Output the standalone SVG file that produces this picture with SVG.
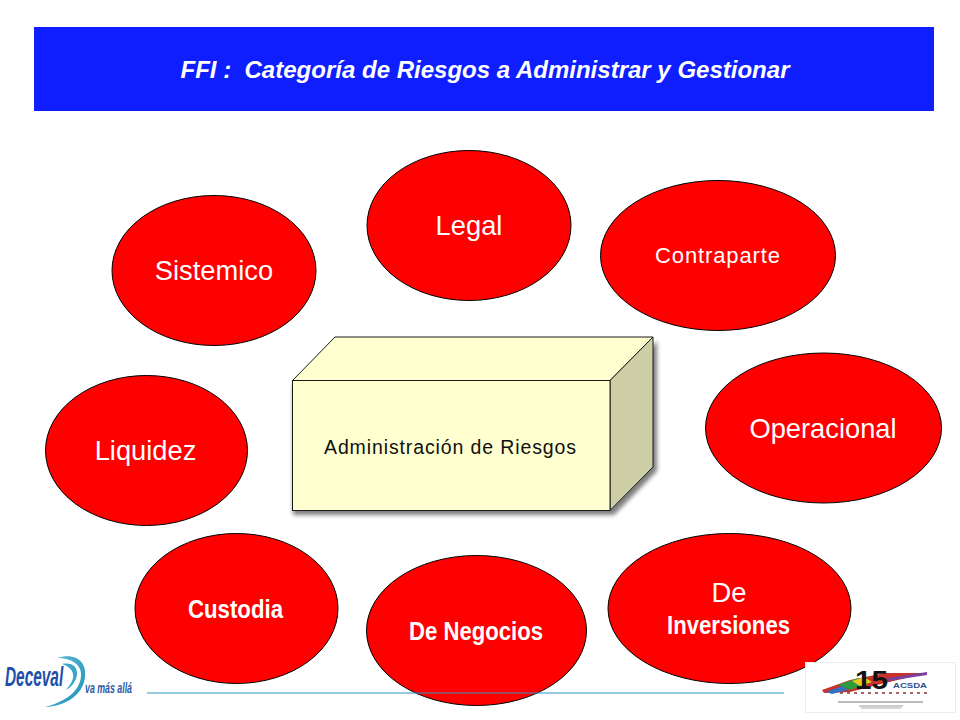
<svg xmlns="http://www.w3.org/2000/svg" width="960" height="720" viewBox="0 0 960 720">
<defs>
<style>
text{font-family:"Liberation Sans",Arial,sans-serif}
.el{fill:#ff0000;stroke:#000;stroke-width:1}
.w{fill:#fff;text-anchor:middle}
.r{font-size:27.300px}
.b{font-weight:bold;font-size:26px}
.s{fill:#000;opacity:.5;filter:url(#blur)}
</style>
<filter id="blur" x="-10%" y="-10%" width="120%" height="120%"><feGaussianBlur stdDeviation="2"/></filter>
<filter id="soft" x="-5%" y="-20%" width="110%" height="140%"><feGaussianBlur stdDeviation="0.700"/></filter>
<linearGradient id="swoosh" x1="0" y1="0" x2="1" y2="1"><stop offset="0" stop-color="#5cc0d8"/><stop offset="1" stop-color="#1f8fb8"/></linearGradient>
</defs>
<rect width="960" height="720" fill="#fff"/>
<g id="title">
<rect x="34" y="27" width="900" height="84" fill="#0f1eff"/>
<text x="485" y="78" class="w" font-size="24" font-weight="bold" font-style="italic" xml:space="preserve" textLength="609" lengthAdjust="spacingAndGlyphs">FFI :  Categoría de Riesgos a Administrar y Gestionar</text>
</g>
<g id="connectors"/>
<g id="legal"><ellipse class="el" cx="469" cy="225.500" rx="102" ry="75"/><text x="469" y="235" class="w r">Legal</text></g>
<g id="contraparte"><ellipse class="el" cx="718" cy="255.500" rx="117.500" ry="75"/><text x="717.500" y="263" class="w" font-size="22" textLength="125" lengthAdjust="spacing">Contraparte</text></g>
<g id="sistemico"><ellipse class="el" cx="214" cy="270.500" rx="102" ry="75"/><text x="214" y="280" class="w r">Sistemico</text></g>
<g id="operacional"><ellipse class="el" cx="823.500" cy="428" rx="118" ry="75"/><text x="823" y="438" class="w r">Operacional</text></g>
<g id="liquidez"><ellipse class="el" cx="146.500" cy="450.500" rx="101" ry="75"/><text x="145.500" y="460" class="w r">Liquidez</text></g>
<g id="custodia"><ellipse class="el" cx="236.500" cy="608.500" rx="101.500" ry="75"/><text x="235.500" y="618" class="w b" textLength="95" lengthAdjust="spacingAndGlyphs">Custodia</text></g>
<g id="negocios"><ellipse class="el" cx="476.500" cy="630.500" rx="110" ry="75"/><text x="476" y="640" class="w b" textLength="134" lengthAdjust="spacingAndGlyphs">De Negocios</text></g>
<g id="inversiones"><ellipse class="el" cx="729.500" cy="608.500" rx="121.500" ry="75"/><text x="729" y="602" class="w r">De</text><text x="728.500" y="634" class="w b" textLength="123" lengthAdjust="spacingAndGlyphs">Inversiones</text></g>
<g id="admin">
<path class="s" d="M293 384H614L657 341V471L614 515H293Z"/>
<path d="M292.500 380.500L335 337H653L610 380.500Z" fill="#ffffd0" stroke="#1a1a1a" stroke-width="1"/>
<path d="M610 380.500L653 337V467L610 510.500Z" fill="#cdcda6" stroke="#1a1a1a" stroke-width="1"/>
<rect x="292.500" y="380.500" width="317.500" height="130" fill="#ffffcf" stroke="#1a1a1a" stroke-width="1"/>
<text x="324" y="454" font-size="19.500" fill="#111" textLength="252" lengthAdjust="spacing">Administración de Riesgos</text>
</g>
<g id="footer-line"><line x1="147" y1="693" x2="784" y2="693" stroke="#2c93c4" stroke-width="1"/></g>
<g id="logo-deceval">
<path d="M57 658C76 652 87 662 85 677C83 695 66 706 45 707C64 702 80 692 81 676C82 665 72 658 57 658Z" fill="url(#swoosh)"/>
<path d="M62 664C72 662 78 667 77 675C76 681 72 687 66 690C71 684 74 679 73 674C72 669 68 666 62 664Z" fill="#3aa6c8"/>
<text transform="translate(5 686) scale(.57 1)" font-size="27" font-weight="bold" font-style="italic" fill="#1f4fa8">Deceval</text>
<text x="85" y="693" font-size="14" font-style="italic" font-weight="bold" fill="#2a5ba8" textLength="47" lengthAdjust="spacingAndGlyphs">va más allá</text>
</g>
<g id="logo-acsda">
<rect x="805.500" y="662.500" width="150" height="50" fill="#fff" stroke="#ececec" stroke-width="1"/>
<g filter="url(#soft)">
<path d="M822 690L850 680L885 673L927 673L885 683L850 692L824 693Z" fill="#c8302c"/>
<path d="M838 685L858 678L868 684L850 690Z" fill="#2e9b3e"/>
<path d="M852 681L864 677L872 682L860 686Z" fill="#e8c820"/>
<path d="M826 692L842 686L848 690L832 694Z" fill="#3070c0"/>
<path d="M888 678L927 672L927 675L888 681Z" fill="#7a3fa0"/>
<line x1="840" y1="693" x2="928" y2="693" stroke="#8a3030" stroke-width="1.500" stroke-dasharray="3 4"/>
<line x1="838" y1="702" x2="923" y2="702" stroke="#777" stroke-width="1.200"/>
<line x1="859" y1="706" x2="903" y2="706" stroke="#999" stroke-width="1"/>
<line x1="861" y1="708" x2="901" y2="708" stroke="#aaa" stroke-width="1"/>
</g>
<text x="855" y="689" font-size="26" font-weight="bold" fill="#111" textLength="33" lengthAdjust="spacingAndGlyphs">15</text>
<text x="893" y="688" font-size="7.500" font-weight="bold" fill="#2a4f90" textLength="34" lengthAdjust="spacingAndGlyphs">ACSDA</text>
</g>
</svg>
